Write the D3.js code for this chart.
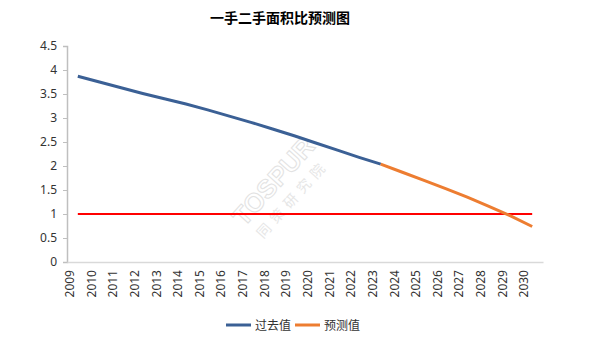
<!DOCTYPE html>
<html><head><meta charset="utf-8">
<script src="https://cdn.jsdelivr.net/npm/d3@7"></script>
<style>body{margin:0;background:#fff}svg{display:block;font-family:"Noto Sans CJK SC","Noto Sans",sans-serif}</style>
</head><body><svg id="c" width="594" height="361"></svg>
<script>
const title = "一手二手面积比预测图";
const years = ["2009","2010","2011","2012","2013","2014","2015","2016","2017","2018","2019","2020","2021","2022","2023","2024","2025","2026","2027","2028","2029","2030"];
const pastYears = years.slice(0, 15);
const pastValues = [3.87,3.75,3.63,3.51,3.40,3.29,3.17,3.04,2.91,2.77,2.63,2.48,2.33,2.18,2.04];
const forecastYears = years.slice(14);
const forecastValues = [2.04,1.87,1.70,1.53,1.35,1.16,0.96,0.74];
const refValue = 1;
const yTicks = [0,0.5,1,1.5,2,2.5,3,3.5,4,4.5];
const seriesNames = ["过去值","预测值"];
const colors = ["#3B6095","#ED7D31"];

const svg = d3.select("#c");
const m = {l:67, r:51, t:46, b:99};
const W = 594, H = 361;
const x = d3.scaleBand().domain(years).range([m.l, W - m.r]);
const y = d3.scaleLinear().domain([0,4.5]).range([H - m.b, m.t]);
const cx = d => x(d) + x.bandwidth()/2;

// watermark
const wm = svg.append("g").attr("transform","translate(283,190) rotate(-48)").attr("fill","#e6e6e6");
wm.append("text").attr("text-anchor","middle").attr("y",-4).attr("font-size",26).attr("font-weight","bold").attr("font-family","Liberation Sans, sans-serif").attr("fill","none").attr("stroke","#e2e2e2").attr("stroke-width",1).text("TOSPUR");
wm.append("text").attr("text-anchor","middle").attr("y",18).attr("font-size",14).attr("letter-spacing",6).text("同策研究院");

// y axis
const ya = svg.append("g").attr("transform",`translate(${m.l},0)`)
  .call(d3.axisLeft(y).tickValues(yTicks).tickSize(4).tickPadding(6).tickFormat(d3.format("~g")));
ya.select(".domain").attr("stroke","#bfbfbf").attr("stroke-width",1.5);
ya.selectAll(".tick line").attr("stroke","#bfbfbf");
ya.selectAll(".tick text").attr("font-size",12).attr("fill","#333").attr("font-family","Noto Sans, sans-serif");

// x axis
const xa = svg.append("g").attr("transform",`translate(0,${H - m.b})`)
  .call(d3.axisBottom(x).tickSize(0).tickPadding(8));
xa.select(".domain").attr("stroke","#d9d9d9").attr("stroke-width",1.5);
xa.selectAll(".tick text").attr("font-size",12).attr("fill","#333").attr("font-family","Noto Sans, sans-serif")
  .attr("transform","rotate(-90)").attr("text-anchor","end").attr("dx","-8px").attr("dy","-0.32em").attr("x",0).attr("y",0);

// reference line
svg.append("line").attr("x1",cx(years[0])).attr("x2",cx(years[years.length-1]))
  .attr("y1",y(refValue)).attr("y2",y(refValue)).attr("stroke","#FF0000").attr("stroke-width",2);

const line = d3.line().x(d=>cx(d[0])).y(d=>y(d[1]));
svg.append("path").datum(d3.zip(pastYears,pastValues)).attr("d",line).attr("fill","none")
  .attr("stroke",colors[0]).attr("stroke-width",3);
svg.append("path").datum(d3.zip(forecastYears,forecastValues)).attr("d",line).attr("fill","none")
  .attr("stroke",colors[1]).attr("stroke-width",3);

// title
svg.append("text").attr("x",280).attr("y",23).attr("text-anchor","middle").attr("font-size",14)
  .attr("font-weight","bold").attr("fill","#000").text(title);

// legend
const lg = svg.append("g");
const lx = [226, 295];
seriesNames.forEach((n,i)=>{
  lg.append("line").attr("x1",lx[i]).attr("x2",lx[i]+25).attr("y1",325).attr("y2",325).attr("stroke",colors[i]).attr("stroke-width",3);
  lg.append("text").attr("x",lx[i]+29).attr("y",330).attr("font-size",12).attr("fill","#333").text(n);
});
</script></body></html>
